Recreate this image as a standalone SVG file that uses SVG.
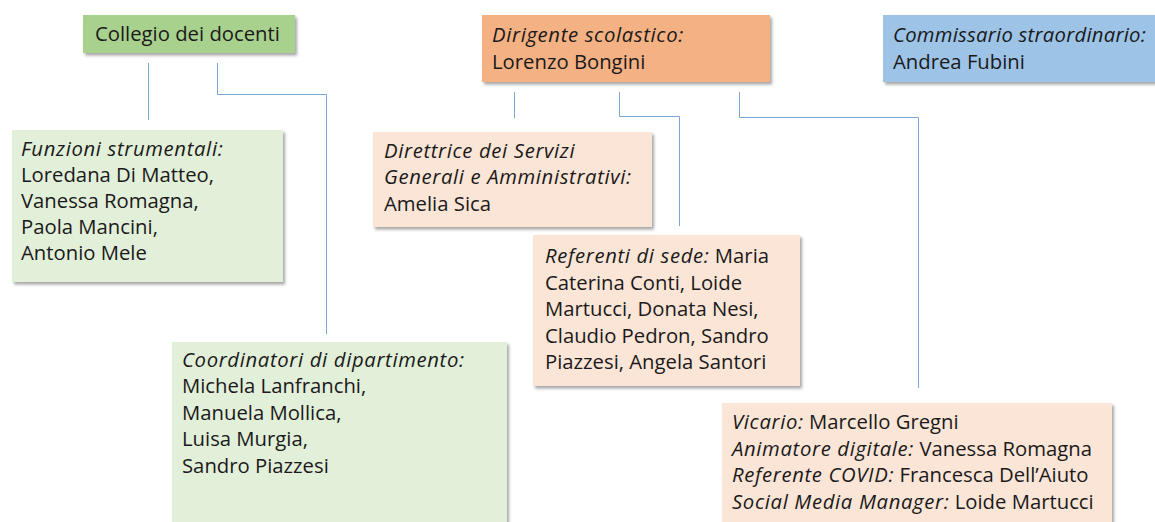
<svg xmlns="http://www.w3.org/2000/svg" width="1155" height="522" viewBox="0 0 1155 522">
<defs>
<filter id="sh" x="-5%" y="-5%" width="115%" height="125%">
<feDropShadow dx="2" dy="2.5" stdDeviation="1.5" flood-color="#000" flood-opacity="0.35"/>
</filter>
<style>
.box{filter:url(#sh);}
.g1{fill:#a9d18e;}
.g2{fill:#e2efd9;}
.o1{fill:#f4b183;}
.o2{fill:#fbe5d6;}
.b1{fill:#9dc3e6;}
text{font-family:"Open Sans","Liberation Sans",sans-serif;font-size:20.3px;fill:#1a1a1a;}
.i{font-style:italic;letter-spacing:0.65px;}
.con{fill:none;stroke:#7aa7d6;stroke-width:1;}
</style>
</defs>
<rect width="1155" height="522" fill="#fff"/>
<g id="connectors">
<path class="con" d="M148.5 63V120"/>
<path class="con" d="M217.5 63V94.5H326.5V334"/>
<path class="con" d="M514.5 92V118"/>
<path class="con" d="M619.5 92V116.5H679.5V226"/>
<path class="con" d="M739.5 92V117.5H918.5V388"/>
</g>
<g id="collegio">
<rect class="box g1" x="83" y="15" width="212" height="38"/>
<text x="95" y="41">Collegio dei docenti</text>
</g>
<g id="dirigente">
<rect class="box o1" x="482" y="15" width="288" height="67"/>
<text x="492" y="42"><tspan class="i">Dirigente scolastico:</tspan></text>
<text x="492" y="69">Lorenzo Bongini</text>
</g>
<g id="commissario">
<rect class="box b1" x="883" y="15" width="280" height="67"/>
<text x="893" y="42"><tspan class="i" style="letter-spacing:0.25px">Commissario straordinario:</tspan></text>
<text x="893" y="69">Andrea Fubini</text>
</g>
<g id="funzioni">
<rect class="box g2" x="12" y="130" width="271" height="152"/>
<text x="21" y="156"><tspan class="i">Funzioni strumentali:</tspan></text>
<text x="21" y="182">Loredana Di Matteo,</text>
<text x="21" y="208">Vanessa Romagna,</text>
<text x="21" y="234">Paola Mancini,</text>
<text x="21" y="260">Antonio Mele</text>
</g>
<g id="dsga">
<rect class="box o2" x="373" y="132" width="279" height="95"/>
<text x="384" y="158"><tspan class="i">Direttrice dei Servizi</tspan></text>
<text x="384" y="184"><tspan class="i">Generali e Amministrativi:</tspan></text>
<text x="384" y="211">Amelia Sica</text>
</g>
<g id="referenti">
<rect class="box o2" x="533" y="235" width="267" height="151"/>
<text x="545" y="263"><tspan class="i">Referenti di sede:</tspan> Maria</text>
<text x="545" y="290">Caterina Conti, Loide</text>
<text x="545" y="316">Martucci, Donata Nesi,</text>
<text x="545" y="343">Claudio Pedron, Sandro</text>
<text x="545" y="369">Piazzesi, Angela Santori</text>
</g>
<g id="coordinatori">
<rect class="box g2" x="172" y="342" width="335" height="200"/>
<text x="182" y="367"><tspan class="i">Coordinatori di dipartimento:</tspan></text>
<text x="182" y="393">Michela Lanfranchi,</text>
<text x="182" y="420">Manuela Mollica,</text>
<text x="182" y="446">Luisa Murgia,</text>
<text x="182" y="473">Sandro Piazzesi</text>
</g>
<g id="vicario">
<rect class="box o2" x="722" y="403" width="390" height="140"/>
<text x="732" y="429"><tspan class="i">Vicario:</tspan> Marcello Gregni</text>
<text x="732" y="456"><tspan class="i">Animatore digitale:</tspan> Vanessa Romagna</text>
<text x="732" y="482"><tspan class="i">Referente COVID:</tspan> Francesca Dell’Aiuto</text>
<text x="732" y="509"><tspan class="i">Social Media Manager:</tspan> Loide Martucci</text>
</g>
</svg>
